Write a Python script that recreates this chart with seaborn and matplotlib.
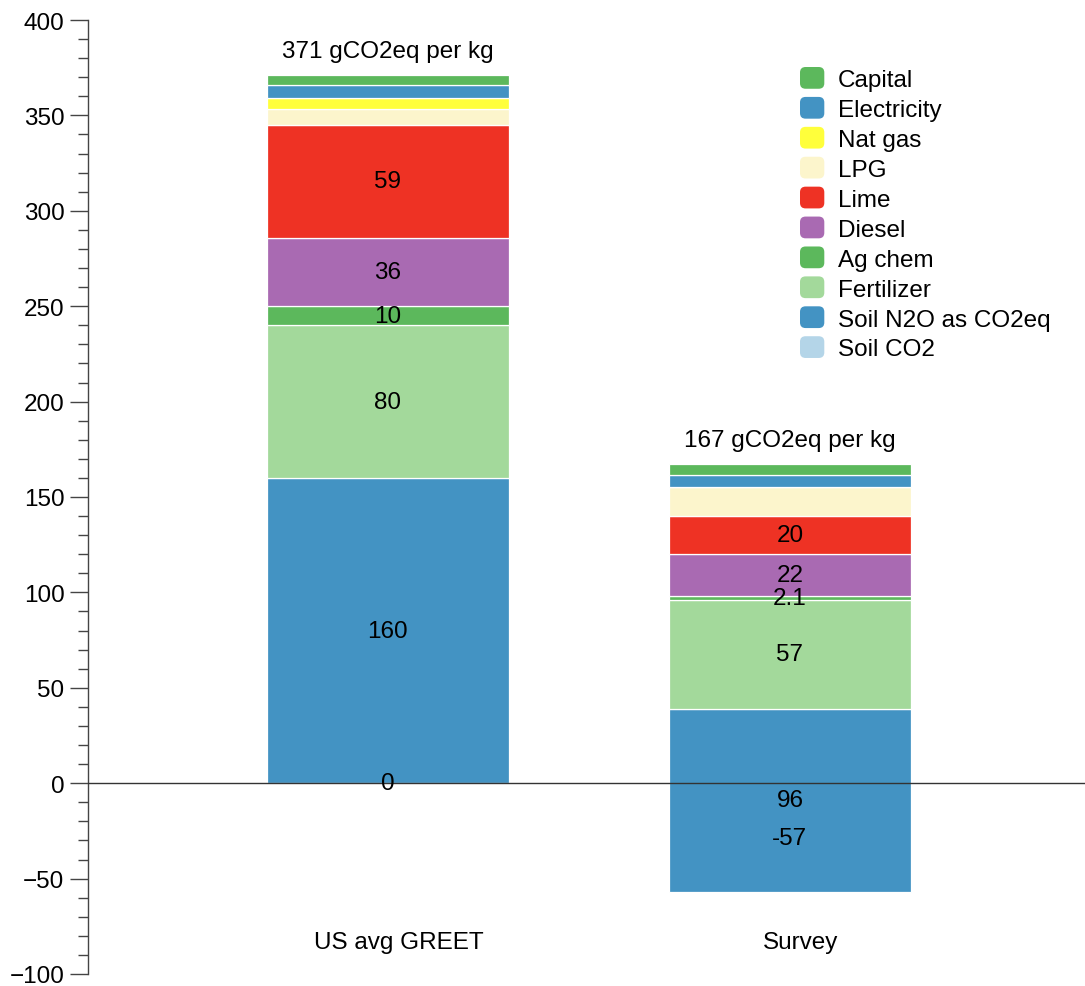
import numpy as np
import matplotlib
matplotlib.use("Agg")
import matplotlib.pyplot as plt
import matplotlib.transforms as mtransforms
from matplotlib.patches import FancyBboxPatch, Patch
from matplotlib.legend_handler import HandlerPatch
import seaborn as sns

# ---- data ----
groups = ["US avg GREET", "Survey"]
categories = ["Soil CO2", "Soil N2O as CO2eq", "Fertilizer", "Ag chem", "Diesel",
              "Lime", "LPG", "Nat gas", "Electricity", "Capital"]
greet_values = [0, 160, 80, 10, 36, 59, 8.3, 5.8, 6.6, 5.5]
survey_values = [-57, 96, 57, 2.1, 22, 20, 15.2, 0, 6.4, 5.5]
labeled_categories = ["Soil CO2", "Soil N2O as CO2eq", "Fertilizer", "Ag chem", "Diesel", "Lime"]
colors = ["#b4d5e8", "#4393c3", "#a3d99b", "#5cb85c", "#a96ab2",
          "#ee3224", "#fcf5cc", "#ffff3b", "#4393c3", "#5cb85c"]
total_suffix = " gCO2eq per kg"

sns.set_theme(style="ticks")
plt.rcParams["font.family"] = ["Liberation Sans", "DejaVu Sans"]
plt.rcParams["text.color"] = "black"
FS = 17.5

fig = plt.figure(figsize=(10.85, 9.87), dpi=100)
ax = fig.add_axes([88 / 1085, 12 / 987, 997 / 1085, 954 / 987])

values = np.array([greet_values, survey_values])  # groups x categories
x = np.arange(len(groups))
width = 0.6
bottom = np.zeros(len(groups))
for j, cat in enumerate(categories):
    h = values[:, j]
    ax.bar(x, h, width=width, bottom=bottom, color=colors[j],
           edgecolor="white", linewidth=0.9, label=cat, zorder=2)
    if cat in labeled_categories:
        for i in range(len(groups)):
            ax.text(x[i], bottom[i] + h[i] / 2, f"{h[i]:g}", ha="center", va="center",
                    fontsize=FS, color="black", zorder=4)
    bottom = bottom + h

totals = values.sum(axis=1)
for i in range(len(groups)):
    ax.text(x[i], totals[i] + 12.5, f"{totals[i]:.0f}{total_suffix}", ha="center",
            va="center", fontsize=FS, color="black")

# category labels
off = mtransforms.offset_copy(ax.transData, fig=fig, x=11, y=0, units="dots")
for i, g in enumerate(groups):
    ax.text(x[i], -83, g, ha="center", va="center", fontsize=FS, color="black",
            transform=off)

ax.axhline(0, color="#333333", linewidth=1.0, zorder=3)

ax.set_xlim(-0.746, 1.734)
ax.set_ylim(-100, 400)
ax.set_yticks(np.arange(-100, 401, 50))
ax.set_yticklabels([f"{v}".replace("-", "\u2212") for v in range(-100, 401, 50)])
ax.set_yticks(np.arange(-100, 401, 10), minor=True)
ax.set_xticks([])
ax.tick_params(axis="y", which="major", length=13, width=1, color="#444444",
               labelsize=FS, pad=4, labelcolor="black")
ax.tick_params(axis="y", which="minor", length=7, width=1, color="#444444")
for s in ["top", "right", "bottom"]:
    ax.spines[s].set_visible(False)
ax.spines["left"].set_color("#444444")
ax.spines["left"].set_linewidth(1)
ax.set_facecolor("white")
ax.grid(False)


class RoundHandler(HandlerPatch):
    def create_artists(self, legend, orig_handle, xdescent, ydescent, width, height,
                       fontsize, trans):
        p = FancyBboxPatch((-xdescent + 3, -ydescent + 3), width - 6, height - 6,
                           boxstyle="round,pad=3,rounding_size=4",
                           facecolor=orig_handle.get_facecolor(), edgecolor="none",
                           transform=trans)
        return [p]


handles = [Patch(facecolor=c, label=l) for c, l in zip(colors, categories)][::-1]
leg = fig.legend(handles=handles, loc="upper left",
                 bbox_to_anchor=(800 / 1085, 1 - 68 / 987), frameon=False,
                 fontsize=FS, handlelength=1.0, handleheight=1.0,
                 handletextpad=0.55, labelspacing=0.235, borderpad=0, borderaxespad=0,
                 labelcolor="black",
                 handler_map={Patch: RoundHandler()})

fig.savefig("out.png", dpi=100, facecolor="white")
